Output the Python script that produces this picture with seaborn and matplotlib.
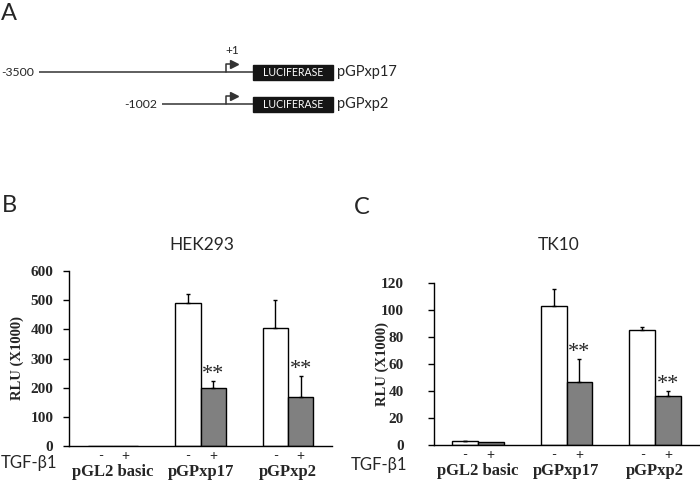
import numpy as np
import pandas as pd
import seaborn as sns
import matplotlib.pyplot as plt
from matplotlib import font_manager
from matplotlib.patches import Rectangle

# luciferase reporter data, RLU x1000 (mean, upper SD)
constructs = ['pGL2 basic', 'pGPxp17', 'pGPxp2']
tgf = ['-', '+']

hek_minus = [1.5, 492, 403]
hek_minus_err = [0, 28, 97]
hek_plus = [1.5, 198, 167]
hek_plus_err = [0, 25, 72]

tk_minus = [2.7, 103, 85.4]
tk_minus_err = [0.5, 12.3, 2.3]
tk_plus = [2.2, 46.7, 36.5]
tk_plus_err = [0, 17, 3.3]

# ** = significant vs untreated, only marked on the TGF-b1 bars
hek_sig = ['', '**', '**']
tk_sig = ['', '**', '**']

# promoter constructs for panel A
diagram_names = ['pGPxp17', 'pGPxp2']
diagram_starts = ['-3500', '-1002']


def pick_font(*names):
    for n in names:
        try:
            font_manager.findfont(n, fallback_to_default=False)
            return n
        except ValueError:
            pass
    return 'DejaVu Sans'


sans = pick_font('Lato', 'Open Sans')
serif = 'Liberation Serif'

sns.set_style('white')
plt.rcParams['font.family'] = [sans, 'DejaVu Sans']
plt.rcParams['axes.linewidth'] = 1.0

W, H = 700, 487
fig = plt.figure(figsize=(7, 4.87), dpi=100)

# background canvas in pixel units for the diagram and the panel labels
bg = fig.add_axes([0, 0, 1, 1])
bg.set_xlim(0, W)
bg.set_ylim(H, 0)
bg.axis('off')

bg.text(1, 14, 'A', fontsize=17, ha='left', va='center')
bg.text(2, 206, 'B', fontsize=17, ha='left', va='center')
bg.text(354, 207, 'C', fontsize=17, ha='left', va='center')

line_col = '#333333'
rows_y = [72, 104]
rows_x0 = [39, 162]
tss_x, box_x0, box_x1 = 226, 253, 333
for name, start, y, x0 in zip(diagram_names, diagram_starts, rows_y, rows_x0):
    bg.plot([x0, box_x0], [y, y], color=line_col, lw=1.1, solid_capstyle='butt')
    bg.add_patch(Rectangle((box_x0, y - 7.5), box_x1 - box_x0, 15, color='#151515'))
    bg.text((box_x0 + box_x1) / 2, y + 0.5, 'LUCIFERASE', color='white', ha='center',
            va='center', fontsize=7.6)
    bg.text(box_x1 + 4, y, name, ha='left', va='center', fontsize=10.5)
    bg.text(x0 - 5, y, start, ha='right', va='center', fontsize=8.8)
    bg.plot([tss_x, tss_x, tss_x + 6], [y, y - 8, y - 8], color=line_col, lw=1.1)
    bg.plot(tss_x + 8, y - 8, marker='>', ms=5.5, color=line_col, mec=line_col)
bg.text(232, 51, '+1', ha='center', va='center', fontsize=8.5)


def rlu_panel(rect, title, title_x, minus, minus_err, plus, plus_err, sig,
              ymax, step, ypad, ylab_x, tgf_x, tgf_y):
    ax = fig.add_axes(rect)
    df = pd.DataFrame({'construct': constructs * 2,
                       'tgf': ['-'] * 3 + ['+'] * 3,
                       'rlu': minus + plus})
    sns.barplot(data=df, x='construct', y='rlu', hue='tgf', order=constructs,
                hue_order=tgf, palette={'-': 'white', '+': '#808080'},
                saturation=1, width=0.58, edgecolor='black', linewidth=1,
                errorbar=None, legend=False, ax=ax)
    bar_sets = list(ax.containers[:2])
    for bars, errs, marks, sign in zip(bar_sets, [minus_err, plus_err], [[''] * 3, sig], tgf):
        for bar, e, m in zip(bars, errs, marks):
            xc = bar.get_x() + bar.get_width() / 2
            top = bar.get_height()
            if e > 0:
                ax.errorbar(xc, top, yerr=[[0], [e]], fmt='none', ecolor='black',
                            elinewidth=1, capsize=1.5, capthick=1)
            if m:
                ax.annotate(m, (xc, top + e), xytext=(0, 5), textcoords='offset points',
                            ha='center', va='center', fontsize=16, family=serif)
            ax.annotate(sign, (xc, 0), xycoords=ax.get_xaxis_transform(),
                        xytext=(0, -7.5), textcoords='offset points',
                        ha='center', va='center', fontsize=10)
    ax.set_xlim(-0.5, 2.5)
    ax.set_ylim(0, ymax)
    ax.set_yticks(np.arange(0, ymax + 1, step))
    ax.set_xticks(range(len(constructs)))
    ax.set_xticklabels(constructs, family=serif, fontweight='bold', fontsize=12)
    for lab in ax.get_yticklabels():
        lab.set_family(serif)
        lab.set_fontweight('bold')
        lab.set_fontsize(11)
    ax.tick_params(axis='x', length=0, pad=13)
    ax.tick_params(axis='y', length=4.5, width=1, pad=ypad, color='black', left=True)
    ax.set_xlabel('')
    ax.set_ylabel('RLU (X1000)', family=serif, fontweight='bold', fontsize=10.5)
    ax.yaxis.set_label_coords(ylab_x, 0.5)
    sns.despine(ax=ax)
    for s in ['left', 'bottom']:
        ax.spines[s].set_color('black')
    bg.text(title_x, 245, title, ha='center', va='center', fontsize=12.5)
    bg.text(tgf_x, tgf_y, 'TGF-\u03b21', ha='left', va='center', fontsize=12)
    return ax


rlu_panel([69.3 / W, 1 - 446 / H, 262.5 / W, 175 / H], 'HEK293', 201.7,
          hek_minus, hek_minus_err, hek_plus, hek_plus_err, hek_sig,
          600, 100, 7, -0.173, 1, 463)
rlu_panel([433.5 / W, 1 - 445 / H, 266 / W, 162 / H], 'TK10', 559,
          tk_minus, tk_minus_err, tk_plus, tk_plus_err, tk_sig,
          120, 20, 17, -0.167, 351, 465)

fig.savefig('out.png', dpi=100)
